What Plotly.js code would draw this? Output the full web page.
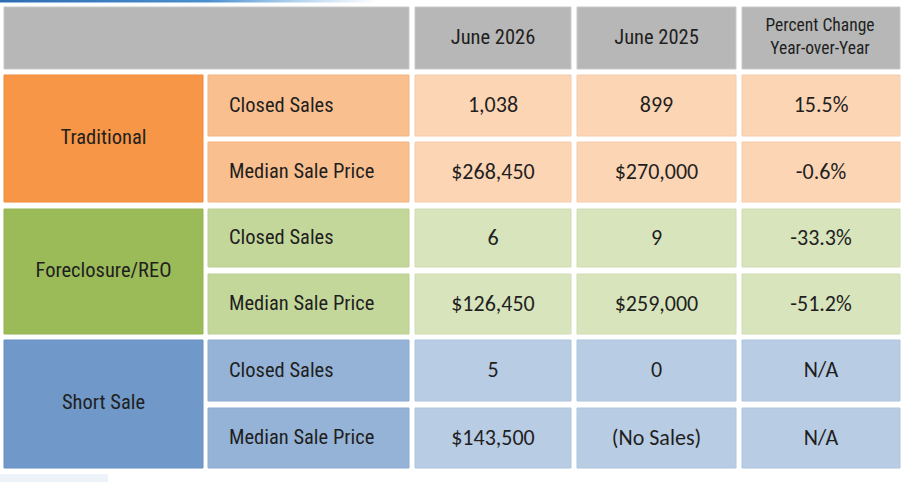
<!DOCTYPE html>
<html>
<head>
<meta charset="utf-8">
<script src="https://cdn.plot.ly/plotly-3.0.1.min.js"></script>
<style>html,body{margin:0;padding:0;background:#fff;}#chart{width:906px;height:482px;}</style>
</head>
<body>
<div id="chart"></div>
<script>
// ---- data ----
const groups = ['Traditional', 'Foreclosure/REO', 'Short Sale'];
const metrics = ['Closed Sales', 'Median Sale Price'];
const periods = ['June 2026', 'June 2025'];
const changeHeader = 'Percent Change<br>Year-over-Year';
const june2026 = [1038, 268450, 6, 126450, 5, 143500];
const june2025 = [899, 270000, 9, 259000, 0, null];
const pctChange = [15.5, -0.6, -33.3, -51.2, null, null];
const noSalesText = '(No Sales)';
const naText = 'N/A';

// ---- layout (positions & styles) ----
const colEdges = [[4, 203], [208, 409], [415, 571], [577, 736], [742, 900]];
const headerBand = [7, 69];
const rowBands = [[75, 136], [142, 202], [209, 267], [274, 334], [340, 401], [408, 468]];
const palette = {
  header: '#b7b7b7',
  group: ['#f79646', '#9bbb59', '#7099c9'],
  label: ['#fabf8f', '#c4d79b', '#95b3d7'],
  value: ['#fcd5b5', '#d8e4bc', '#b8cce4']
};
const borders = {
  header: '#c9c9c9',
  group: ['#ee8a3a', '#93b351', '#6690c0'],
  label: ['#f3b480', '#bccf92', '#8cabd0'],
  value: ['#f6ccaa', '#d0dcb3', '#afc4de']
};
const condFont = '"Roboto Condensed", "DejaVu Sans Condensed", sans-serif';
const valFont = 'Carlito, "Open Sans", sans-serif';
const textColor = '#1f1f1f';

const fmtInt = v => v.toLocaleString('en-US');
const isPrice = i => metrics[i % 2] === 'Median Sale Price';
const fmtVal = (v, i) => v === null ? noSalesText : (isPrice(i) ? '$' + fmtInt(v) : fmtInt(v));
const fmtPct = v => v === null ? naText : v.toFixed(1) + '%';

const traces = [];
function cellBar(xs, ys, colors, lines) {
  traces.push({
    type: 'bar', orientation: 'h',
    base: xs.map(e => e[0]), x: xs.map(e => e[1] - e[0]),
    y: ys.map(e => (e[0] + e[1]) / 2), width: ys.map(e => e[1] - e[0]),
    marker: { color: colors, line: { color: lines, width: 1 } },
    hoverinfo: 'skip', showlegend: false
  });
}
function textTrace(xs, ys, texts, family, size, pos) {
  traces.push({
    type: 'scatter', mode: 'text', x: xs, y: ys, text: texts,
    textposition: pos || 'middle center',
    textfont: { family: family, size: size, color: textColor },
    hoverinfo: 'skip', showlegend: false, cliponaxis: false
  });
}

// header cells
cellBar([[colEdges[0][0], colEdges[1][1]], colEdges[2], colEdges[3], colEdges[4]],
  [headerBand, headerBand, headerBand, headerBand],
  Array(4).fill(palette.header), Array(4).fill(borders.header));

// group cells (each spans two rows)
const groupBands = groups.map((g, gi) => [rowBands[gi * 2][0], rowBands[gi * 2 + 1][1]]);
cellBar(groups.map(() => colEdges[0]), groupBands, palette.group, borders.group);

// metric label + value cells
const rowIdx = june2026.map((_, i) => i);
const rowColor = (arr, i) => arr[Math.floor(i / 2)];
for (let c = 1; c <= 4; c++) {
  const pal = c === 1 ? palette.label : palette.value;
  const bor = c === 1 ? borders.label : borders.value;
  cellBar(rowIdx.map(() => colEdges[c]), rowBands,
    rowIdx.map(i => rowColor(pal, i)), rowIdx.map(i => rowColor(bor, i)));
}

const mid = e => (e[0] + e[1]) / 2;
// header text
textTrace([mid(colEdges[2]), mid(colEdges[3])], [mid(headerBand) + 1, mid(headerBand) + 1], periods, condFont, 20.5);
textTrace([mid(colEdges[4]) - 1], [mid(headerBand)], [changeHeader], condFont, 17.5);
// group text
textTrace(groups.map(() => mid(colEdges[0])), groupBands.map(mid), groups, condFont, 20.5);
// metric labels
textTrace(rowIdx.map(() => colEdges[1][0] + 21), rowBands.map(b => mid(b) + 1),
  rowIdx.map(i => metrics[i % 2]), condFont, 20.5, 'middle right');
// values
textTrace(rowIdx.map(() => mid(colEdges[2])), rowBands.map(b => mid(b) + 1), june2026.map(fmtVal), valFont, 22);
textTrace(rowIdx.map(() => mid(colEdges[3])), rowBands.map(b => mid(b) + 1), june2025.map(fmtVal), valFont, 22);
textTrace(rowIdx.map(() => mid(colEdges[4])), rowBands.map(b => mid(b) + 1), pctChange.map(fmtPct), valFont, 22);

// decorative top gradient rule
traces.push({
  type: 'scatter', mode: 'none', x: [0, 380, 380, 0, 0], y: [0, 0, 2.5, 2.5, 0],
  fill: 'toself',
  fillgradient: { type: 'horizontal', colorscale: [[0, '#2e6db4'], [0.55, '#4a8fd0'], [1, 'rgba(120,180,230,0)']] },
  hoverinfo: 'skip', showlegend: false
});

const layout = {
  width: 906, height: 482,
  margin: { l: 0, r: 0, t: 0, b: 0 },
  paper_bgcolor: '#ffffff', plot_bgcolor: '#ffffff',
  barmode: 'overlay',
  xaxis: { range: [0, 906], visible: false, fixedrange: true },
  yaxis: { range: [482, 0], visible: false, fixedrange: true },
  shapes: [{
    type: 'rect', xref: 'x', yref: 'y', x0: 0, x1: 108, y0: 474, y1: 482,
    fillcolor: '#eef3f9', line: { width: 0 }, layer: 'below'
  }],
  showlegend: false
};

Plotly.newPlot('chart', traces, layout, { staticPlot: true, displayModeBar: false });
</script>
</body>
</html>
